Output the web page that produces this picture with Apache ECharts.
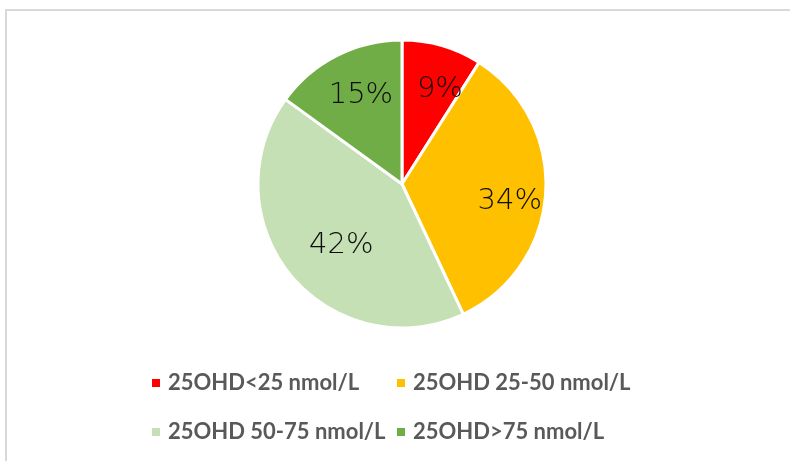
<!DOCTYPE html>
<html>
<head>
<meta charset="utf-8">
<script src="https://cdn.jsdelivr.net/npm/echarts@6/dist/echarts.min.js"></script>
<style>
html, body { margin: 0; padding: 0; background: #fff; }
#chart { width: 790px; height: 461px; }
</style>
</head>
<body>
<div id="chart"></div>
<script>
// 25OHD 分组占比
var categories = ['25OHD<25 nmol/L', '25OHD 25-50 nmol/L', '25OHD 50-75 nmol/L', '25OHD>75 nmol/L'];
var percents = [9, 34, 42, 15];
var colors = ['#FF0000', '#FFC000', '#C5E0B4', '#70AD47'];

// label nudges (Excel best-fit placement)
var labelShift = [[17, -23], [33, 13], [-3, 14], [-7, -22]];
// legend slots: [left, top]
var legendSlots = [[150, 372], [395, 372], [150, 421], [395, 421]];

var myChart = echarts.init(document.getElementById('chart'));

var pieData = [];
for (var i = 0; i < categories.length; i++) {
    pieData.push({ name: categories[i], value: percents[i], itemStyle: { color: colors[i] } });
}

var legends = [];
for (var j = 0; j < categories.length; j++) {
    legends.push({
        data: [categories[j]],
        left: legendSlots[j][0],
        top: legendSlots[j][1],
        padding: 0,
        itemWidth: 10,
        itemHeight: 10,
        icon: 'rect',
        selectedMode: false,
        textStyle: {
            color: '#595959',
            fontFamily: 'Lato',
            fontWeight: 'bold',
            fontSize: 22,
            lineHeight: 22,
            padding: [0, 0, 0, 2]
        }
    });
}

var option = {
    animation: false,
    legend: legends,
    graphic: [{
        type: 'rect',
        shape: { x: 6, y: 10, width: 800, height: 470 },
        style: { fill: 'none', stroke: '#d9d9d9', lineWidth: 2 },
        silent: true
    }],
    series: [{
        type: 'pie',
        center: [402, 184],
        radius: 144,
        startAngle: 90,
        clockwise: true,
        itemStyle: { borderColor: '#fff', borderWidth: 3 },
        label: {
            show: true,
            position: 'inside',
            formatter: '{c}%',
            color: '#0d0d0d',
            fontFamily: 'DejaVu Sans',
            fontWeight: 200,
            fontSize: 29
        },
        labelLayout: function (params) {
            var s = labelShift[params.dataIndex];
            return { dx: s[0], dy: s[1] };
        },
        labelLine: { show: false },
        data: pieData
    }]
};

if (option && typeof option === 'object') {
    myChart.setOption(option, true);
}
</script>
</body>
</html>
